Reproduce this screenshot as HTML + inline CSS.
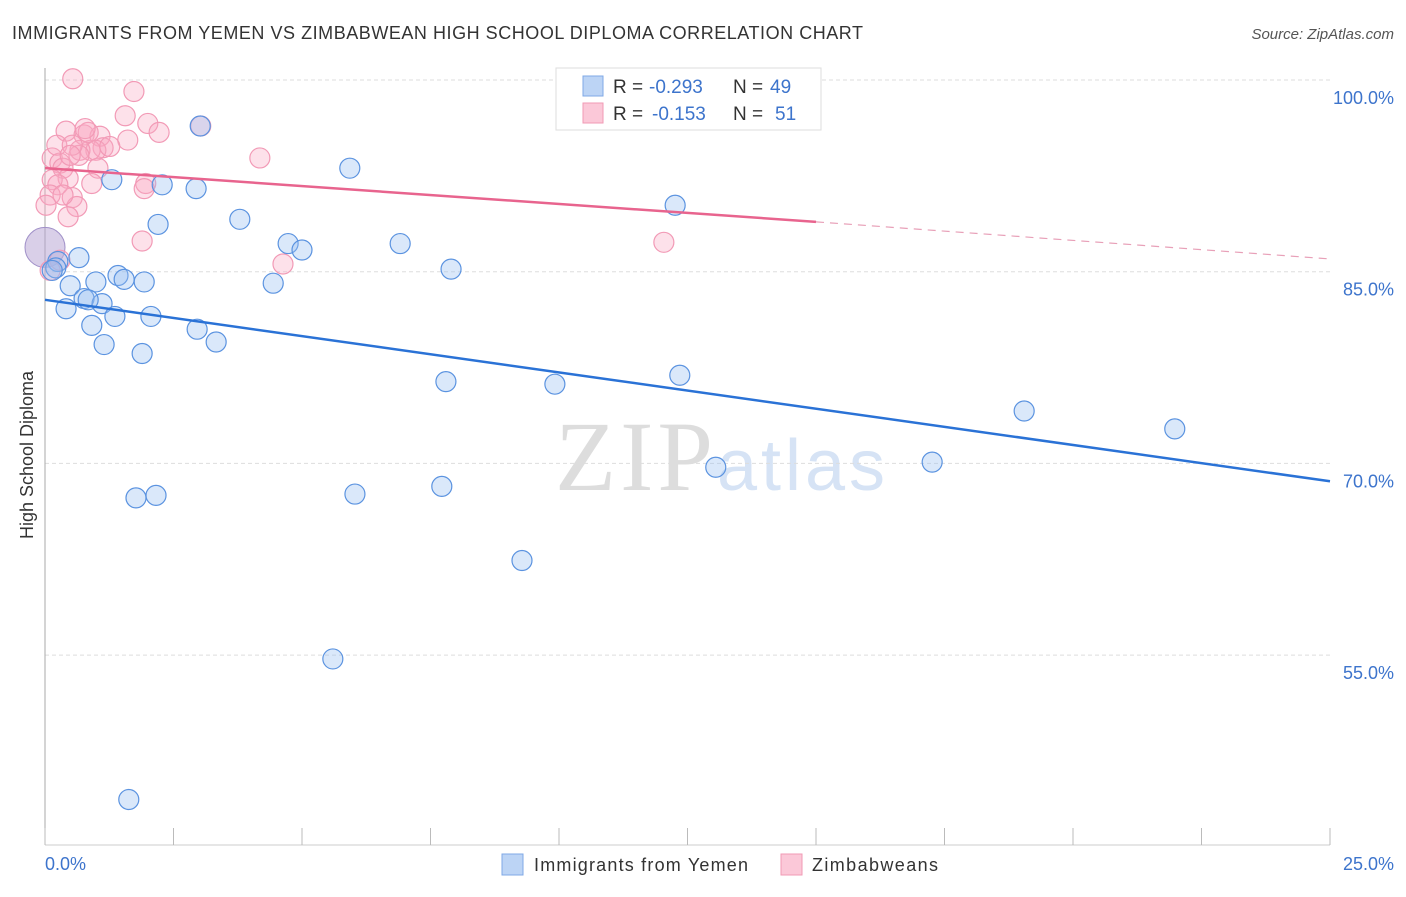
<!DOCTYPE html>
<html><head><meta charset="utf-8"><style>
body{margin:0;background:#fff;font-family:"Liberation Sans",sans-serif}
</style></head><body>
<svg width="1406" height="892" xmlns="http://www.w3.org/2000/svg" style="font-family:'Liberation Sans',sans-serif">
<text x="12" y="39" font-size="18" fill="#333" textLength="851">IMMIGRANTS FROM YEMEN VS ZIMBABWEAN HIGH SCHOOL DIPLOMA CORRELATION CHART</text>
<text x="1394" y="39" font-size="15" fill="#555" font-style="italic" text-anchor="end">Source: ZipAtlas.com</text>
<text x="555" y="490" font-size="100" fill="#ddd" textLength="158" font-family="Liberation Serif">ZIP</text>
<text x="717" y="490" font-size="72" fill="#d6e3f5" textLength="168">atlas</text>
<g id="grid"></g>
<line x1="45" y1="68" x2="45" y2="845" stroke="#aaa"/>
<line x1="45" y1="845" x2="1330" y2="845" stroke="#ccc"/>
<g id="ticks"></g>
<text x="33" y="455" font-size="18" fill="#333" text-anchor="middle" transform="rotate(-90 33 455)">High School Diploma</text>
<text x="45" y="870" font-size="18" fill="#3d74cc">0.0%</text>
<text x="1394" y="870" font-size="18" fill="#3d74cc" text-anchor="end">25.0%</text>
<g id="pts"></g>
<g id="lines"></g>
<g font-size="19">
<rect x="556" y="68" width="265" height="62" fill="#fff" stroke="#ddd"/>
<rect x="583" y="76" width="20" height="20" fill="#bcd4f5" stroke="#7fa8e6"/>
<rect x="583" y="103" width="20" height="20" fill="#fbc8d8" stroke="#f09ab4"/>
<text x="613" y="93" fill="#333">R =</text><text x="649" y="93" fill="#3d74cc">-0.293</text>
<text x="733" y="93" fill="#333">N =</text><text x="770" y="93" fill="#3d74cc">49</text>
<text x="613" y="120" fill="#333">R =</text><text x="652" y="120" fill="#3d74cc">-0.153</text>
<text x="733" y="120" fill="#333">N =</text><text x="775" y="120" fill="#3d74cc">51</text>
</g>
<g>
<rect x="502" y="854" width="21" height="21" fill="#bcd4f5" stroke="#7fa8e6"/>
<text x="534" y="871" font-size="18" fill="#333" textLength="214">Immigrants from Yemen</text>
<rect x="781" y="854" width="21" height="21" fill="#fbc8d8" stroke="#f09ab4"/>
<text x="812" y="871" font-size="18" fill="#333" textLength="126">Zimbabweans</text>
</g>
</svg>
<script>
const yTicks=[100,85,70,55];
const yTickLabels=["100.0%","85.0%","70.0%","55.0%"];
const blueX=[1.30,3.02,5.93,2.28,2.94,3.79,2.20,4.73,5.00,6.91,12.26,0.66,0.25,0.21,7.90,1.42,1.54,1.93,0.99,4.44,0.49,0.76,1.11,0.41,0.84,1.36,2.06,0.91,2.96,1.15,3.33,1.89,7.80,9.92,12.35,19.05,21.98,13.05,17.26,1.77,2.16,6.03,7.72,9.28,5.60,1.63,0.14];
const blueY=[92.2,96.4,93.1,91.8,91.5,89.1,88.7,87.2,86.7,87.2,90.2,86.1,85.8,85.3,85.2,84.7,84.4,84.2,84.2,84.1,83.9,82.9,82.5,82.1,82.8,81.5,81.5,80.8,80.5,79.3,79.5,78.6,76.4,76.2,76.9,74.1,72.7,69.7,70.1,67.3,67.5,67.6,68.2,62.4,54.7,43.7,85.1];
const pinkX=[0.54,1.73,1.56,3.03,2.00,2.22,0.41,0.76,1.07,1.61,1.13,0.88,0.99,0.68,4.18,0.14,0.29,0.35,1.03,0.45,0.14,0.91,1.96,1.93,0.25,0.10,0.53,0.02,0.62,0.45,1.89,12.04,4.63,0.29,0.10,1.26,0.66,0.23,0.35,0.84,0.53,0.78,0.49];
const pinkY=[100.1,99.1,97.2,96.4,96.6,95.9,96.0,95.7,95.6,95.3,94.7,94.5,94.5,94.5,93.9,93.9,93.5,93.1,93.1,92.3,92.2,91.9,91.9,91.5,91.8,91.0,90.8,90.2,90.1,89.3,87.4,87.3,85.6,85.9,85.1,94.8,94.1,94.9,91.0,95.9,94.9,96.2,94.1];
const blueTrend=[82.8,68.6];
const pinkTrend=[93.1,88.9,86.0];
const NS="http://www.w3.org/2000/svg";
const sx=v=>45+v/25*1285;
const sy=v=>80+(100-v)/15*191.7;
function mk(t,a,p){const e=document.createElementNS(NS,t);for(const k in a)e.setAttribute(k,a[k]);document.getElementById(p).appendChild(e);return e;}
yTicks.forEach((t,i)=>{
 const l=mk('line',{x1:45,x2:1330,y1:sy(t),y2:sy(t),stroke:'#ddd','stroke-dasharray':'4,3'},'grid');
 
 
 const tx=mk('text',{x:1394,y:sy(t)+24,'font-size':18,fill:'#3d74cc','text-anchor':'end'},'grid');
 tx.textContent=yTickLabels[i];
 
 
});
for(let i=0;i<=10;i++){
 const l=mk('line',{x1:sx(i*2.5),x2:sx(i*2.5),y1:828,y2:845,stroke:'#bbb'},'ticks');
 
 
}
const big=mk('circle',{cx:sx(0),cy:sy(86.9),r:20,fill:'rgba(180,160,210,0.5)',stroke:'#a090c8'},'pts');


pinkX.forEach((x,i)=>{
 const c=mk('circle',{cx:sx(x),cy:sy(pinkY[i]),r:10,fill:'rgba(248,170,196,0.35)',stroke:'#f29ab6','stroke-width':1.2},'pts');
 
 
});
blueX.forEach((x,i)=>{
 const c=mk('circle',{cx:sx(x),cy:sy(blueY[i]),r:10,fill:'rgba(150,190,240,0.35)',stroke:'#5b93e0','stroke-width':1.2},'pts');
 
 
});
const bl=mk('line',{x1:sx(0),y1:sy(blueTrend[0]),x2:sx(25),y2:sy(blueTrend[1]),stroke:'#2a72d6','stroke-width':2.5},'lines');


const pl=mk('line',{x1:sx(0),y1:sy(pinkTrend[0]),x2:sx(15),y2:sy(pinkTrend[1]),stroke:'#e8648e','stroke-width':2.5},'lines');


const pd=mk('line',{x1:sx(15),y1:sy(pinkTrend[1]),x2:sx(25),y2:sy(pinkTrend[2]),stroke:'#e8a0b8','stroke-width':1.2,'stroke-dasharray':'8,6'},'lines');


</script>
</body></html>
